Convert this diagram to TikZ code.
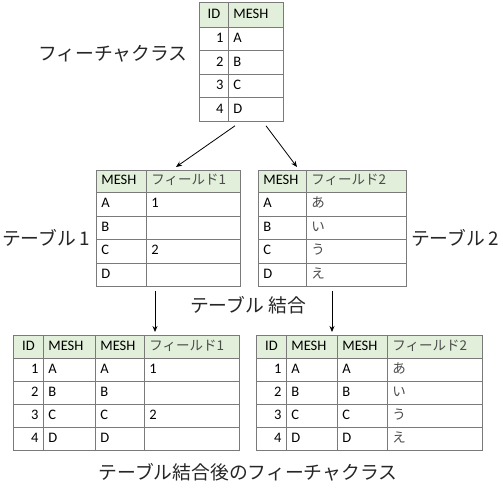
\documentclass[tikz,border=0pt]{standalone}
\usepackage{fontspec}
\setmainfont{Carlito}
\newfontfamily\jp{Noto Sans CJK JP}
\usepackage{xcolor}
\usetikzlibrary{arrows.meta}
\definecolor{headgreen}{HTML}{E2EFDA}
\definecolor{gridgray}{HTML}{7A7A7A}

\begin{document}
\begin{tikzpicture}[x=1pt, y=-1pt,
      cell/.style={draw=gridgray, line width=0.8pt, anchor=north west, inner xsep=5pt, inner ysep=0pt,
        minimum height=23.5pt, font=\fontsize{14.5}{16}\selectfont, text height=10pt, text depth=3pt},
      head/.style={cell, fill=headgreen},
      kana/.style={font=\jp\fontsize{13.5}{16}\selectfont, text=black!70},
      lab/.style={font=\jp\fontsize{18.8}{20}\selectfont, text=black!85},
      arr/.style={-{Stealth[length=6pt, width=5pt]}, line width=0.8pt}]
    \fill[white] (0,0) rectangle (503,500);
    \useasboundingbox (0,0) rectangle (503,500);
    % feature class
    \node[head, minimum height=25pt, text width=19pt, align=center] (fc-0-1) at (199,2) {ID};
    \node[head, minimum height=25pt, text width=45pt, align=left] (fc-0-2) at (228,2) {MESH};
    \foreach \r/\m in {1/A,2/B,3/C,4/D} {
      \node[cell, text width=19pt, align=right] (fc-\r-1) at (199,{27+(\r-1)*23.5}) {\r};
      \node[cell, text width=45pt, align=left] (fc-\r-2) at (228,{27+(\r-1)*23.5}) {\m};
    }
    \node[lab] (fc-lab) at (113,54) {フィーチャクラス};
    % table 1
    \node[head, minimum height=22pt, text width=40pt, align=left] (t1-0-1) at (96,170) {MESH};
    \node[head, kana, minimum height=22pt, text width=84pt, align=left] (t1-0-2) at (146,170) {フィールド1};
    \foreach \r/\m/\v in {1/A/1,2/B/,3/C/2,4/D/} {
      \node[cell, text width=40pt, align=left] (t1-\r-1) at (96,{192+(\r-1)*23.5}) {\m};
      \node[cell, text width=84pt, align=left] (t1-\r-2) at (146,{192+(\r-1)*23.5}) {\v};
    }
    \node[lab] (t1-lab) at (46,238) {テーブル\,1};
    % table 2
    \node[head, minimum height=22pt, text width=38pt, align=left] (t2-0-1) at (258,170) {MESH};
    \node[head, kana, minimum height=22pt, text width=90pt, align=left] (t2-0-2) at (306,170) {フィールド2};
    \foreach \r/\m/\v in {1/A/あ,2/B/い,3/C/う,4/D/え} {
      \node[cell, text width=38pt, align=left] (t2-\r-1) at (258,{192+(\r-1)*23.5}) {\m};
      \node[cell, kana, text width=90pt, align=left] (t2-\r-2) at (306,{192+(\r-1)*23.5}) {\v};
    }
    \node[lab] (t2-lab) at (455,238) {テーブル\,2};
    \node[lab] (join-lab) at (248,305) {テーブル 結合};
    % joined 1
    \node[head, minimum height=23pt, text width=20pt, align=center] (j1-0-1) at (13,335) {ID};
    \node[head, minimum height=23pt, text width=42pt, align=left] (j1-0-2) at (43,335) {MESH};
    \node[head, minimum height=23pt, text width=39pt, align=left] (j1-0-3) at (95,335) {MESH};
    \node[head, kana, minimum height=23pt, text width=85pt, align=left] (j1-0-4) at (144,335) {フィールド1};
    \foreach \r/\m/\v in {1/A/1,2/B/,3/C/2,4/D/} {
      \node[cell, minimum height=23pt, text width=20pt, align=right] (j1-\r-1) at (13,{358+(\r-1)*23}) {\r};
      \node[cell, minimum height=23pt, text width=42pt, align=left] (j1-\r-2) at (43,{358+(\r-1)*23}) {\m};
      \node[cell, minimum height=23pt, text width=39pt, align=left] (j1-\r-3) at (95,{358+(\r-1)*23}) {\m};
      \node[cell, minimum height=23pt, text width=85pt, align=left] (j1-\r-4) at (144,{358+(\r-1)*23}) {\v};
    }
    % joined 2
    \node[head, minimum height=23pt, text width=20pt, align=center] (j2-0-1) at (256,335) {ID};
    \node[head, minimum height=23pt, text width=41pt, align=left] (j2-0-2) at (286,335) {MESH};
    \node[head, minimum height=23pt, text width=40pt, align=left] (j2-0-3) at (337,335) {MESH};
    \node[head, kana, minimum height=23pt, text width=85pt, align=left] (j2-0-4) at (387,335) {フィールド2};
    \foreach \r/\m/\v in {1/A/あ,2/B/い,3/C/う,4/D/え} {
      \node[cell, minimum height=23pt, text width=20pt, align=right] (j2-\r-1) at (256,{358+(\r-1)*23}) {\r};
      \node[cell, minimum height=23pt, text width=41pt, align=left] (j2-\r-2) at (286,{358+(\r-1)*23}) {\m};
      \node[cell, minimum height=23pt, text width=40pt, align=left] (j2-\r-3) at (337,{358+(\r-1)*23}) {\m};
      \node[cell, kana, minimum height=23pt, text width=85pt, align=left] (j2-\r-4) at (387,{358+(\r-1)*23}) {\v};
    }
    \node[lab] (cap-lab) at (248,472) {テーブル結合後のフィーチャクラス};
    % arrows
    \draw[arr] ([xshift=7pt,yshift=-4pt]fc-4-2.south west) -- ([xshift=30pt,yshift=3pt]t1-0-2.north west);
    \draw[arr] ([xshift=38pt,yshift=-4pt]fc-4-2.south west) -- ([xshift=39pt,yshift=3pt]t2-0-1.north west);
    \draw[arr] ([xshift=9pt,yshift=-4pt]t1-4-2.south west) -- ([xshift=60pt,yshift=3pt]j1-0-3.north west);
    \draw[arr] ([xshift=26pt,yshift=-4pt]t2-4-2.south west) -- ([xshift=46pt,yshift=3pt]j2-0-2.north west);
  \end{tikzpicture}
\end{document}
